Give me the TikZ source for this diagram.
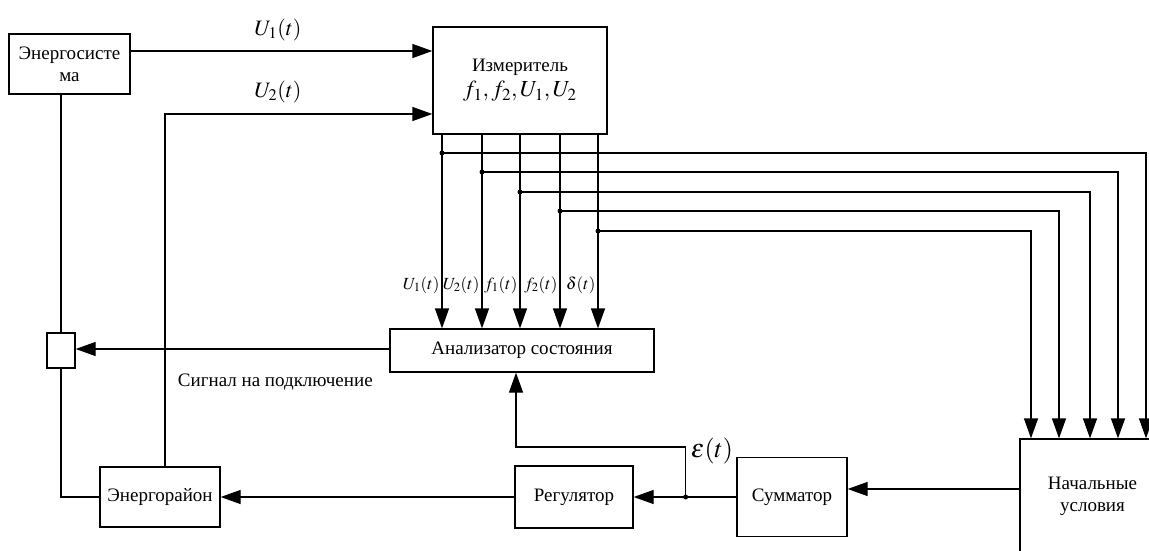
\documentclass[tikz,border=0pt]{standalone}
\usepackage{mathptmx}
\usepackage{fontspec}
\setmainfont{Liberation Serif}
\usetikzlibrary{arrows.meta,calc}
\begin{document}
\begin{tikzpicture}[x=1pt,y=-1pt,
  line width=1.3pt,
  blk/.style={draw,rectangle,inner sep=2pt,align=center,font=\fontsize{19}{22}\selectfont},
  arr/.style={-{Triangle[length=20pt,width=14pt]}},
  junc/.style={circle,fill,inner sep=0pt,minimum size=5pt},
  sig/.style={font=\fontsize{17}{19}\selectfont},
  big/.style={font=\fontsize{22}{24}\selectfont}]
\useasboundingbox (0,0) rectangle (1149,551);

% blocks
\node[blk,minimum width=121pt,minimum height=60pt] (sys) at (69.5,64) {Энергосисте\\ма};
\node[blk,minimum width=174pt,minimum height=107pt] (meas) at (520,80.5)
  {Измеритель\\[3pt]{\fontsize{23}{24}\selectfont$f_1,f_2,U_1,U_2$}};
\node[blk,minimum width=264pt,minimum height=43pt] (an) at (522,350.5) {Анализатор состояния};
\node[draw,rectangle,minimum width=28pt,minimum height=35pt] (sw) at (61,350.5) {};
\node[blk,minimum width=120pt,minimum height=60pt] (area) at (160,497) {Энергорайон};
\node[blk,minimum width=118pt,minimum height=62pt] (reg) at (574,497) {Регулятор};
\node[blk,minimum width=110pt,minimum height=79pt] (sum) at (792,497) {Сумматор};
\node[blk,minimum width=145pt,minimum height=114pt] (init) at (1092.5,496) {Начальные\\условия};

% voltage inputs of the meter
\draw[arr] ([yshift=13pt]sys.east) coordinate (u1) -- (u1 -| meas.west);
\node[big] (lu1) at (278,30) {$U_1(t)$};
\draw[arr] ([xshift=5pt]area.north) |- ([yshift=-33.5pt]meas.west);
\node[big] (lu2) at (278,92) {$U_2(t)$};

% switch between the power system and the district
\draw (sw.north) -- (sw.north |- sys.south);
\draw (sw.south) |- (area.west);
\draw[arr] ([yshift=1.5pt]an.west) coordinate (aw) -- (aw -| sw.east);
\node[font=\fontsize{19}{22}\selectfont,anchor=west] (lsig) at (174,382) {Сигнал на подключение};

% measured signals to the analyser and to the initial conditions
\foreach \dx/\dy/\rx/\lab [count=\i] in
  {-78/153/1146/{U_1(t)}, -38/172/1118/{U_2(t)}, 0/192/1090/{f_1(t)},
   40/211/1059/{f_2(t)}, 78/231/1031/{\delta(t)}}{
  \coordinate (m\i) at ([xshift=\dx pt]meas.south);
  \draw[arr] (m\i) -- (m\i |- an.north);
  \node[junc] (j\i) at (m\i |- 0,\dy) {};
  \draw[arr] (j\i.center) -| (init.north -| \rx,0);
  \node[sig,anchor=east,inner sep=0pt] (l\i) at ($(m\i |- 0,285)+(-2,0)$) {$\lab$};
}

% control chain
\draw[arr] ([yshift=7pt]init.west) coordinate (iw) -- (iw -| sum.east);
\coordinate (e) at ($(reg.east)+(52,0)$);
\draw[arr] (sum.west |- e) -- (reg.east);
\node[junc] (je) at (e) {};
\draw[arr] (je.center) -- ++(0,-50) -| ([xshift=-6pt]an.south);
\node[font=\fontsize{26}{28}\selectfont] (leps) at (712,451) {$\varepsilon(t)$};
\draw[arr] (reg.west) -- (area.east);
\end{tikzpicture}
\end{document}
